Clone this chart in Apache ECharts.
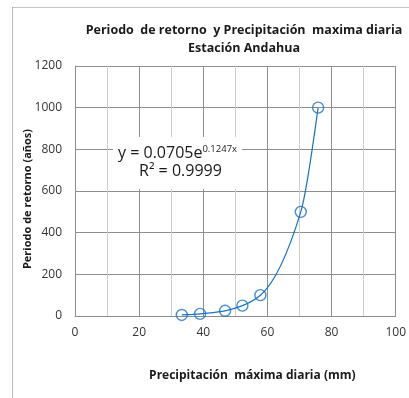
<!DOCTYPE html>
<html><head><meta charset="utf-8">
<script src="https://cdn.jsdelivr.net/npm/echarts@6/dist/echarts.min.js"></script>
<style>html,body{margin:0;padding:0;background:#fff}#c{width:409px;height:398px}</style>
</head><body><div id="c"></div>
<script>
var precip = [33.3, 39.0, 46.8, 52.2, 57.8, 70.4, 75.8];
var returnPeriod = [5, 10, 25, 50, 100, 500, 1000];
var xTicks = [0, 20, 40, 60, 80, 100];
var yTicks = [0, 200, 400, 600, 800, 1000, 1200];
var titleLines = ['Periodo  de retorno  y Precipitación  maxima diaria', 'Estación Andahua'];
var eqCoef = '0.0705', eqExp = '0.1247x', r2 = '0.9999';

var FONT = 'Open Sans';
var LINE_COLOR = '#1a72c2';
var pts = precip.map(function (x, i) { return [x, returnPeriod[i]]; });

// monotone cubic (PCHIP) tangents for a smooth line through the data points
function pchipTangents(xs, ys) {
  var n = xs.length, h = [], d = [], m = [];
  for (var i = 0; i < n - 1; i++) { h.push(xs[i + 1] - xs[i]); d.push((ys[i + 1] - ys[i]) / h[i]); }
  for (var k = 1; k < n - 1; k++) {
    if (d[k - 1] * d[k] <= 0) { m[k] = 0; continue; }
    var w1 = 2 * h[k] + h[k - 1], w2 = h[k] + 2 * h[k - 1];
    m[k] = (w1 + w2) / (w1 / d[k - 1] + w2 / d[k]);
  }
  function endSlope(h0, h1, d0, d1) {
    var s = ((2 * h0 + h1) * d0 - h0 * d1) / (h0 + h1);
    if (s * d0 <= 0) return 0;
    if (d0 * d1 <= 0 && Math.abs(s) > Math.abs(3 * d0)) return 3 * d0;
    return s;
  }
  m[0] = endSlope(h[0], h[1], d[0], d[1]);
  m[n - 1] = endSlope(h[n - 2], h[n - 3], d[n - 2], d[n - 3]);
  return m;
}

var chart = echarts.init(document.getElementById('c'), null, {renderer: 'canvas'});
chart.setOption({
  animation: false,
  backgroundColor: '#fff',
  title: {
    text: titleLines.join('\n'),
    left: 239, top: 16, textAlign: 'center',
    textStyle: {fontFamily: FONT, fontSize: 12.5, fontWeight: 'bold', color: '#1a1a1a', lineHeight: 18}
  },
  grid: {left: 75, right: 12, top: 66, bottom: 82, containLabel: false},
  xAxis: {
    type: 'value', min: xTicks[0], max: xTicks[xTicks.length - 1], interval: 20,
    name: 'Precipitación  máxima diaria (mm)', nameLocation: 'middle', nameGap: 54,
    nameTextStyle: {fontFamily: FONT, fontSize: 12, fontWeight: 'bold', color: '#1a1a1a', padding: [0, 0, 0, 34]},
    axisLine: {lineStyle: {color: '#8c8c8c', width: 1}},
    axisTick: {show: false},
    axisLabel: {fontFamily: FONT, fontSize: 12, color: '#333', margin: 11},
    splitLine: {show: true, lineStyle: {color: '#8e8e8e', width: 1}},
    minorTick: {show: false, splitNumber: 2},
    minorSplitLine: {show: true, lineStyle: {color: '#cccccc', width: 1}}
  },
  yAxis: {
    type: 'value', min: yTicks[0], max: yTicks[yTicks.length - 1], interval: 200,
    name: 'Periodo de retorno (años)', nameLocation: 'middle', nameGap: 42, nameRotate: 90,
    nameMoveOverlap: false,
    nameTextStyle: {fontFamily: FONT, fontSize: 11, fontWeight: 'bold', color: '#1a1a1a', padding: [0, 16, 0, 0]},
    axisLine: {show: true, lineStyle: {color: '#8c8c8c', width: 1}},
    axisTick: {show: false},
    axisLabel: {fontFamily: FONT, fontSize: 12, color: '#333', margin: 13, formatter: function (v) { return String(v); }},
    splitLine: {show: true, lineStyle: {color: '#8e8e8e', width: 1}}
  },
  series: [
    {
      type: 'custom', silent: true, z: 2,
      data: [pts[0]],
      renderItem: function (params, api) {
        var m = pchipTangents(precip, returnPeriod);
        var p0 = api.coord(pts[0]);
        var d = 'M' + p0[0] + ' ' + p0[1];
        for (var i = 0; i < pts.length - 1; i++) {
          var h = precip[i + 1] - precip[i];
          var c1 = api.coord([precip[i] + h / 3, returnPeriod[i] + m[i] * h / 3]);
          var c2 = api.coord([precip[i + 1] - h / 3, returnPeriod[i + 1] - m[i + 1] * h / 3]);
          var e = api.coord(pts[i + 1]);
          d += ' C' + c1[0] + ' ' + c1[1] + ' ' + c2[0] + ' ' + c2[1] + ' ' + e[0] + ' ' + e[1];
        }
        return {type: 'path', shape: {pathData: d}, style: {stroke: LINE_COLOR, fill: null, lineWidth: 1.2}};
      }
    },
    {
      type: 'scatter', data: pts, symbol: 'circle', symbolSize: 11,
      itemStyle: {color: 'rgba(255,255,255,0)', borderColor: LINE_COLOR, borderWidth: 1.4}, z: 3
    }
  ],
  graphic: [
    {type: 'rect', left: 12, top: 7, shape: {width: 0.6, height: 400}, style: {fill: '#8c8c8c'}, silent: true},
    {type: 'rect', left: 12, top: 7, shape: {width: 400, height: 0.6}, style: {fill: '#8c8c8c'}, silent: true},
    {type: 'rect', left: 113, top: 137, shape: {width: 129, height: 52}, style: {fill: '#fff'}, z: 10},
    {
      type: 'text', left: 118, top: 144, z: 11,
      style: {
        text: 'y = ' + eqCoef + 'e{sup|' + eqExp + '}',
        fontFamily: FONT, fontSize: 16, fill: '#1a1a1a',
        rich: {sup: {fontSize: 9.5, verticalAlign: 'top', padding: [0, 0, 9, 0], fontFamily: FONT, fill: '#1a1a1a'}}
      }
    },
    {
      type: 'text', left: 139, top: 163, z: 11,
      style: {text: 'R\u00b2 = ' + r2, fontFamily: FONT, fontSize: 16, fill: '#1a1a1a'}
    }
  ]
});
</script></body></html>
